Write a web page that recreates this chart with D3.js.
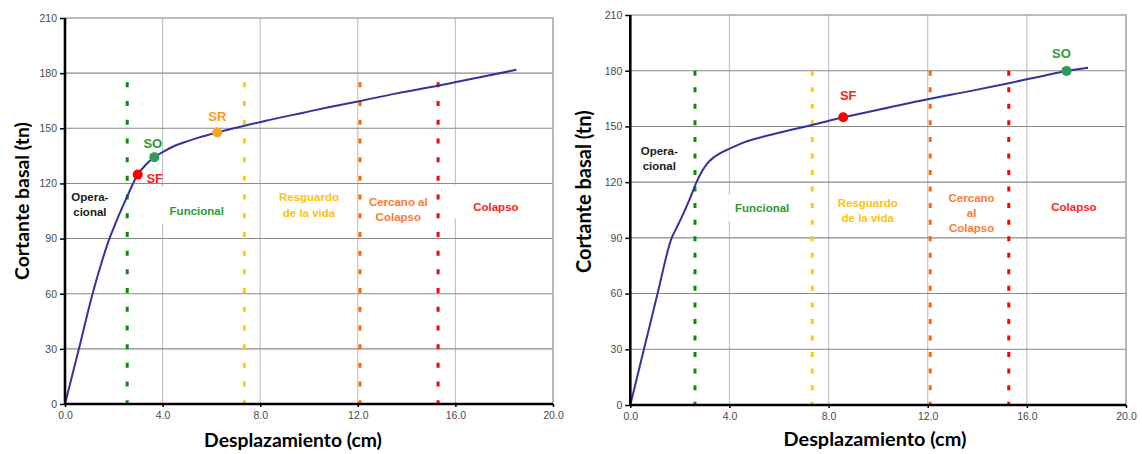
<!DOCTYPE html>
<html><head><meta charset="utf-8">
<script src="https://cdn.jsdelivr.net/npm/d3@7"></script>
<style>
html,body{margin:0;padding:0;background:#fff;}
svg{display:block;}
</style></head>
<body>
<svg id="c" width="1142" height="454"></svg>
<script>
// ---------- data ----------
const xTicks = [0, 4, 8, 12, 16, 20];
const yTicks = [0, 30, 60, 90, 120, 150, 180, 210];
const xTitle = "Desplazamiento (cm)";
const yTitle = "Cortante basal (tn)";

const leftDisp  = [0, 0.57, 1.13, 1.5, 1.78, 2.0, 2.2, 2.55, 2.98, 3.3, 3.66, 4.0, 4.44, 5.0, 5.53, 6.24, 7.35, 8.27, 8.81, 9.63, 10.8, 12.0, 13.6, 15.29, 16.9, 18.5];
const leftShear = [0, 30, 60, 77, 88.5, 96, 102.5, 113, 124.8, 130, 134.3, 137, 140.1, 142.9, 145.2, 147.7, 151.4, 154.2, 155.8, 158.1, 161.4, 164.6, 169, 173.1, 177.5, 181.8];

const rightDisp  = [0, 0.55, 1.1, 1.67, 1.87, 2.07, 2.4, 2.68, 2.9, 3.1, 3.35, 3.6, 3.89, 4.56, 5.63, 6.5, 7.34, 8.59, 10.2, 12.04, 13.7, 15.27, 16.5, 17.6, 18.47];
const rightShear = [0, 30, 60, 90, 95.5, 101, 111, 120.3, 126, 130, 133.2, 135.4, 137.3, 141.3, 145.4, 148.2, 150.8, 154.9, 159.5, 164.8, 169, 173.3, 176.8, 179.9, 181.6];

// performance limits (Operacional | Funcional | Resguardo | Cercano | Colapso)
const leftLimits  = [2.55, 7.35, 12.09, 15.29];
const rightLimits = [2.61, 7.34, 12.1, 15.27];
const leftLimitTop = 175;
const rightLimitTop = 180;

const leftPointLabels = ["SF", "SO", "SR"];
const leftPointX      = [2.98, 3.66, 6.24];
const leftPointY      = [124.8, 134.3, 147.7];
const rightPointLabels = ["SF", "SO"];
const rightPointX      = [8.59, 17.6];
const rightPointY      = [154.9, 179.9];

const leftZoneText  = [["Opera-", "cional"], ["Funcional"], ["Resguardo", "de la vida"], ["Cercano al", "Colapso"], ["Colapso"]];
const leftZoneX     = [1.02, 5.4, 10.0, 13.66, 17.66];
const leftZoneY     = [112.9, 105.2, 112.5, 110.1, 107.4];
const rightZoneText = [["Opera-", "cional"], ["Funcional"], ["Resguardo", "de la vida"], ["Cercano", "al", "Colapso"], ["Colapso"]];
const rightZoneX    = [1.17, 5.32, 9.58, 13.77, 17.9];
const rightZoneY    = [137, 105.9, 108.9, 111.3, 106.5];

// ---------- styles ----------
const limitColors = ["#0b8a0b", "#ffcc00", "#ff6600", "#ff0000"];
const zoneColors  = ["#1a1a1a", "#2f9a2f", "#ffc20e", "#ff7a30", "#ff1f1f"];
const pointFill   = {SF: "#ff0000", SO: "#2e9a5e", SR: "#ffa31a"};
const pointText   = {SF: "#ff1a1a", SO: "#2a9a3a", SR: "#ff9a1a"};
const curveColor  = "#33339c";

const svg = d3.select("#c");

const charts = [
  {x0: 65, x1: 553, y0: 404, y1: 18, disp: leftDisp, shear: leftShear, limits: leftLimits, limTop: leftLimitTop,
   dash: "5,13.7", pl: leftPointLabels, px: leftPointX, py: leftPointY,
   pOff: {SF: [17, 4], SO: [-1.5, -14], SR: [0, -16]},
   zt: leftZoneText, zx: leftZoneX, zy: leftZoneY, lineGap: 15.5,
   boxes: {1: [8, 18, 8, 7], 4: [20, 16, 8, 6]},
   xt: {cx: 293, y: 447, w: 178}, yt: {cx: 22, cy: 201, w: 158}},
  {x0: 630.3, x1: 1126, y0: 405, y1: 15, disp: rightDisp, shear: rightShear, limits: rightLimits, limTop: rightLimitTop,
   dash: "5,11.55", pl: rightPointLabels, px: rightPointX, py: rightPointY,
   pOff: {SF: [5, -21.6], SO: [-5, -17]},
   zt: rightZoneText, zx: rightZoneX, zy: rightZoneY, lineGap: 15,
   boxes: {1: [6, 8, 6, 7]},
   xt: {cx: 875, y: 446, w: 183}, yt: {cx: 583.5, cy: 191.7, w: 163}}
];

function fitText(sel, target) {
  sel.attr("font-size", 18);
  const len = sel.node().getComputedTextLength();
  sel.attr("font-size", 18 * target / len);
}

charts.forEach(c => {
  const x = d3.scaleLinear().domain([0, 20]).range([c.x0, c.x1]);
  const y = d3.scaleLinear().domain([0, 210]).range([c.y0, c.y1]);
  const g = svg.append("g");

  // vertical gridlines
  g.append("g").selectAll("line").data(xTicks.slice(1, -1)).join("line")
    .attr("x1", d => x(d)).attr("x2", d => x(d)).attr("y1", y(0)).attr("y2", y(210))
    .attr("stroke", "#c4c4c4").attr("stroke-width", 1.2);
  // horizontal gridlines
  g.append("g").selectAll("line").data(yTicks.slice(1, -1)).join("line")
    .attr("x1", x(0)).attr("x2", x(20)).attr("y1", d => y(d)).attr("y2", d => y(d))
    .attr("stroke", "#8a8a8a").attr("stroke-width", 1.1);
  // plot border top/right
  g.append("path")
    .attr("d", `M${x(0)},${y(210)}H${x(20)}V${y(0)}`)
    .attr("fill", "none").attr("stroke", "#a6a6a6").attr("stroke-width", 1.6);

  // zone labels (with optional white boxes)
  const zg = g.append("g");
  c.zt.forEach((lines, i) => {
    const t = zg.append("text")
      .attr("text-anchor", "middle")
      .attr("font-family", "Liberation Sans, Arial, sans-serif")
      .attr("font-weight", "bold").attr("font-size", 11.5)
      .attr("fill", zoneColors[i]);
    lines.forEach((ln, k) => {
      t.append("tspan").attr("x", x(c.zx[i])).attr("y", y(c.zy[i]) + k * c.lineGap)
        .attr("dy", "0.35em").text(ln);
    });
    if (c.boxes[i]) {
      const b = t.node().getBBox();
      const p = c.boxes[i];
      zg.insert("rect", "text")
        .attr("x", b.x - p[0]).attr("y", b.y - p[1])
        .attr("width", b.width + p[0] + p[2]).attr("height", b.height + p[1] + p[3])
        .attr("fill", "#fff");
    }
  });

  // limit dashed lines
  g.append("g").selectAll("line").data(c.limits).join("line")
    .attr("x1", d => x(d)).attr("x2", d => x(d))
    .attr("y1", y(c.limTop)).attr("y2", y(0))
    .attr("stroke", (d, i) => limitColors[i]).attr("stroke-width", 3)
    .attr("stroke-dasharray", c.dash);

  // capacity curve
  const pts = c.disp.map((d, i) => [d, c.shear[i]]);
  g.append("path").datum(pts)
    .attr("d", d3.line().x(d => x(d[0])).y(d => y(d[1])).curve(d3.curveMonotoneX))
    .attr("fill", "none").attr("stroke", curveColor).attr("stroke-width", 2);

  // axes
  const ya = d3.axisLeft(y).tickValues(yTicks).tickSize(5).tickPadding(3).tickFormat(d3.format("d"));
  const yg = g.append("g").attr("transform", `translate(${x(0)},0)`).call(ya);
  const xa = d3.axisBottom(x).tickValues(xTicks).tickSize(3).tickPadding(5).tickFormat(d3.format(".1f"));
  const xg = g.append("g").attr("transform", `translate(0,${y(0)})`).call(xa);
  [yg, xg].forEach(a => {
    a.select(".domain").attr("stroke", "#000").attr("stroke-width", 2.6);
    a.selectAll(".tick line").attr("stroke", "#000").attr("stroke-width", 1.5);
    a.selectAll(".tick text").attr("font-family", "Liberation Sans, Arial, sans-serif")
      .attr("font-size", 10.5).attr("fill", "#4a4a4a");
  });
  yg.select(".domain").attr("d", `M0,${y(0)}V${y(210)}`);
  xg.select(".domain").attr("d", `M${x(0)},0H${x(20)}`);

  // performance points
  c.pl.forEach((lab, i) => {
    g.append("circle").attr("cx", x(c.px[i])).attr("cy", y(c.py[i])).attr("r", 5)
      .attr("fill", pointFill[lab]);
    g.append("text").attr("x", x(c.px[i]) + c.pOff[lab][0]).attr("y", y(c.py[i]) + c.pOff[lab][1])
      .attr("dy", "0.35em").attr("text-anchor", "middle")
      .attr("font-family", "Liberation Sans, Arial, sans-serif").attr("font-weight", "bold")
      .attr("font-size", 13).attr("fill", pointText[lab]).text(lab);
  });

  // axis titles
  const xt = g.append("text").attr("x", c.xt.cx).attr("y", c.xt.y).attr("text-anchor", "middle")
    .attr("font-family", "Lato, Open Sans, sans-serif").attr("font-weight", "bold").attr("fill", "#000").text(xTitle);
  fitText(xt, c.xt.w);
  const yt = g.append("text").attr("transform", `translate(${c.yt.cx},${c.yt.cy}) rotate(-90)`)
    .attr("text-anchor", "middle").attr("dy", "0.35em")
    .attr("font-family", "Lato, Open Sans, sans-serif").attr("font-weight", "bold").attr("fill", "#000").text(yTitle);
  fitText(yt, c.yt.w);
});
</script>
</body></html>
